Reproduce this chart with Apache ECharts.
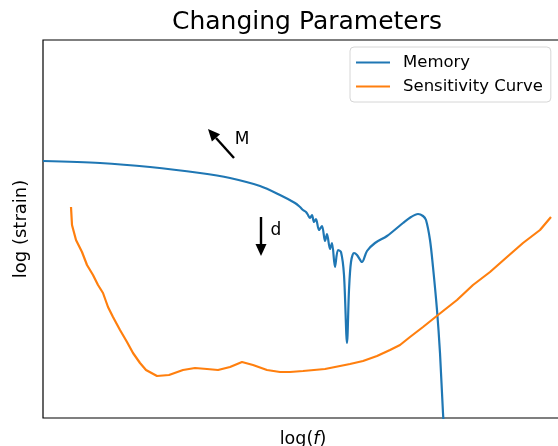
<!DOCTYPE html>
<html>
<head>
<meta charset="utf-8">
<script src="https://cdn.jsdelivr.net/npm/echarts@6/dist/echarts.min.js"></script>
<style>
  html, body { margin: 0; padding: 0; background: #fff; }
  #chart { width: 558px; height: 446px; }
</style>
</head>
<body>
<div id="chart"></div>
<script>
// Memory signal: [log f, log strain] (arbitrary log units)
const memoryCurve = [
  [0.00, 2.57], [0.57, 2.55], [1.07, 2.51], [1.57, 2.45], [1.87, 2.40],
  [2.17, 2.32], [2.37, 2.23], [2.52, 2.15], [2.57, 2.11], [2.60, 2.08],
  [2.63, 2.06], [2.65, 2.03], [2.67, 2.00], [2.69, 2.03], [2.71, 1.96],
  [2.73, 1.99], [2.76, 1.88], [2.79, 1.92], [2.82, 1.77], [2.84, 1.84],
  [2.87, 1.69], [2.89, 1.75], [2.92, 1.51], [2.95, 1.68], [2.98, 1.66],
  [3.01, 1.43], [3.04, 0.75], [3.06, 1.28], [3.08, 1.56], [3.11, 1.65],
  [3.14, 1.63], [3.19, 1.56], [3.24, 1.67], [3.32, 1.75], [3.44, 1.82],
  [3.60, 1.95], [3.68, 2.01], [3.75, 2.04], [3.80, 2.02], [3.83, 1.98],
  [3.87, 1.78], [3.90, 1.51], [3.94, 1.08], [3.97, 0.65], [4.00, 0.05],
  [4.02, -0.22]
];

// Detector sensitivity curve: [log f, log strain]
const sensitivityCurve = [
  [0.28, 2.11], [0.29, 1.93], [0.33, 1.78], [0.39, 1.66], [0.44, 1.53],
  [0.50, 1.43], [0.55, 1.33], [0.60, 1.25], [0.65, 1.11], [0.70, 1.01],
  [0.77, 0.88], [0.84, 0.76], [0.90, 0.65], [0.97, 0.55], [1.03, 0.48],
  [1.14, 0.42], [1.26, 0.43], [1.40, 0.48], [1.52, 0.50], [1.64, 0.49],
  [1.75, 0.48], [1.87, 0.51], [1.99, 0.56], [2.10, 0.53], [2.24, 0.48],
  [2.37, 0.46], [2.47, 0.46], [2.60, 0.47], [2.82, 0.49], [3.07, 0.54],
  [3.20, 0.57], [3.34, 0.62], [3.47, 0.68], [3.57, 0.73], [3.67, 0.81],
  [3.80, 0.91], [3.95, 1.03], [4.14, 1.18], [4.30, 1.33], [4.47, 1.46],
  [4.64, 1.61], [4.80, 1.75], [4.97, 1.88], [5.08, 2.01]
];

// Parameter arrows: [x start, y start, x end, y end, label x, label y, label]
const parameterArrows = [
  [1.91, 2.60, 1.65, 2.89, 1.99, 2.78, 'M'],
  [2.18, 2.01, 2.18, 1.62, 2.33, 1.87, 'd']
];

const seriesNames = ['Memory', 'Sensitivity Curve'];
const FONT = 'DejaVu Sans';

const chart = echarts.init(document.getElementById('chart'), null, { renderer: 'canvas' });

function renderArrow(params, api) {
  const p1 = api.coord([api.value(0), api.value(1)]);
  const p2 = api.coord([api.value(2), api.value(3)]);
  const pl = api.coord([api.value(4), api.value(5)]);
  const label = parameterArrows[params.dataIndex][6];
  const dx = p2[0] - p1[0], dy = p2[1] - p1[1];
  const len = Math.sqrt(dx * dx + dy * dy);
  const ux = dx / len, uy = dy / len;
  const headLen = 12, headHalf = 5.5;
  const bx = p2[0] - ux * headLen, by = p2[1] - uy * headLen;
  const nx = -uy, ny = ux;
  return {
    type: 'group',
    children: [
      {
        type: 'line',
        shape: { x1: p1[0], y1: p1[1], x2: bx, y2: by },
        style: { stroke: '#000', lineWidth: 2.4 }
      },
      {
        type: 'polygon',
        shape: { points: [[p2[0], p2[1]], [bx + nx * headHalf, by + ny * headHalf], [bx - nx * headHalf, by - ny * headHalf]] },
        style: { fill: '#000' }
      },
      {
        type: 'text',
        x: pl[0], y: pl[1],
        style: { text: label, fill: '#000', font: '17px "DejaVu Sans"', align: 'center', verticalAlign: 'middle' }
      }
    ]
  };
}

chart.setOption({
  animation: false,
  backgroundColor: '#fff',
  title: {
    text: 'Changing Parameters',
    left: 302, top: 5,
    textAlign: 'center',
    textStyle: { fontFamily: FONT, fontSize: 25, fontWeight: 'normal', color: '#000' }
  },
  legend: {
    data: seriesNames,
    orient: 'vertical',
    left: 350, top: 47,
    padding: [6, 8, 6, 6],
    itemGap: 5,
    itemWidth: 34, itemHeight: 2,
    icon: 'rect',
    backgroundColor: '#fff',
    borderColor: '#d6d6d6', borderWidth: 1, borderRadius: 4,
    textStyle: { fontFamily: FONT, fontSize: 16.5, color: '#000', padding: [0, 0, 0, 8], lineHeight: 19 }
  },
  grid: {
    left: 43, top: 40, width: 520, height: 378,
    show: true, borderColor: '#000', borderWidth: 1.2,
    containLabel: false, outerBoundsMode: 'none'
  },
  xAxis: {
    type: 'value', min: 0, max: 5.2,
    name: '{n|log(}{i|f}{n|)}',
    nameLocation: 'middle', nameGap: 12,
    nameTextStyle: {
      fontFamily: FONT, fontSize: 17.5, color: '#000', verticalAlign: 'top',
      rich: {
        n: { fontFamily: FONT, fontSize: 17.5, color: '#000' },
        i: { fontFamily: FONT, fontSize: 17.5, color: '#000', fontStyle: 'italic' }
      }
    },
    axisLine: { show: false }, axisTick: { show: false }, axisLabel: { show: false }, splitLine: { show: false }
  },
  yAxis: {
    type: 'value', min: 0, max: 3.78,
    name: 'log (strain)',
    nameLocation: 'middle', nameGap: 13,
    nameTextStyle: { fontFamily: FONT, fontSize: 18, color: '#000', verticalAlign: 'bottom' },
    axisLine: { show: false }, axisTick: { show: false }, axisLabel: { show: false }, splitLine: { show: false }
  },
  series: [
    {
      name: seriesNames[0], type: 'line', data: memoryCurve,
      symbol: 'none', smooth: 0.3, clip: true,
      lineStyle: { color: '#1f77b4', width: 2.2 }, itemStyle: { color: '#1f77b4' }
    },
    {
      name: seriesNames[1], type: 'line', data: sensitivityCurve,
      symbol: 'none', smooth: false, clip: true,
      lineStyle: { color: '#ff7f0e', width: 2.2 }, itemStyle: { color: '#ff7f0e' }
    },
    {
      name: 'arrows', type: 'custom', data: parameterArrows.map(a => a.slice(0, 6)),
      renderItem: renderArrow, silent: true, clip: false, z: 5
    }
  ]
});
</script>
</body>
</html>
